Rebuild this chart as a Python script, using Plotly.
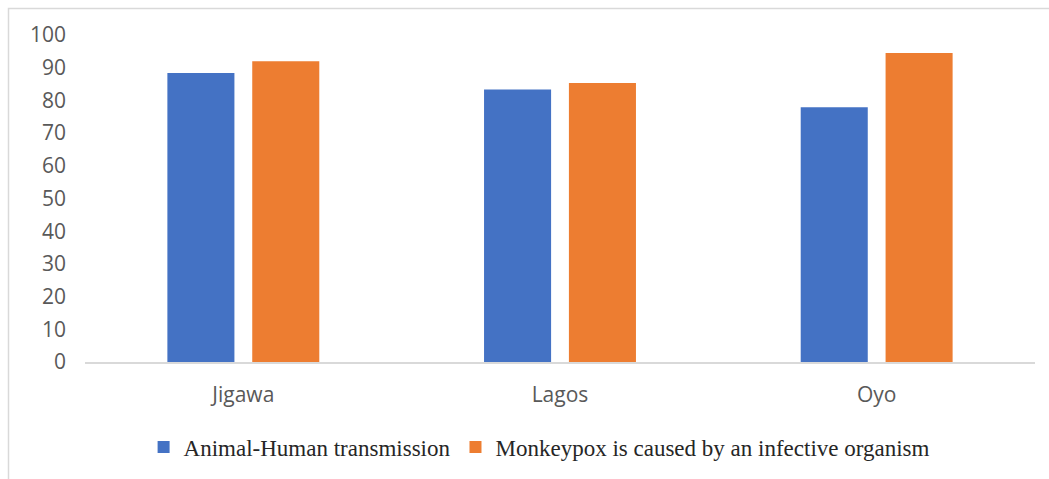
import plotly.graph_objects as go

# Survey results by state (percent of respondents)
states = ["Jigawa", "Lagos", "Oyo"]
animal_human = [88.4, 83.3, 77.9]
infective_organism = [92.0, 85.3, 94.5]

series_names = [
    "Animal-Human transmission",
    "Monkeypox is caused by an infective organism",
]
y_ticks = list(range(0, 101, 10))

BLUE = "#4472C4"
ORANGE = "#ED7D31"
GREY_TEXT = "#595959"
AXIS_GREY = "#D9D9D9"

W, H = 1049, 479
ML, MR, MT, MB = 85, 14, 35, 117
plot_w = W - ML - MR
plot_h = H - MT - MB

fig = go.Figure()
fig.add_trace(go.Bar(x=states, y=animal_human, name=series_names[0],
                     marker=dict(color=BLUE, line=dict(width=0))))
fig.add_trace(go.Bar(x=states, y=infective_organism, name=series_names[1],
                     marker=dict(color=ORANGE, line=dict(width=0))))

# Light outer frame around the chart area
fx0 = (8.5 - ML) / plot_w
fy1 = (H - MB - 8.5) / plot_h
fig.add_shape(type="rect", xref="paper", yref="paper",
              x0=fx0, x1=1.2, y0=-1.0, y1=fy1,
              line=dict(color=AXIS_GREY, width=1.5), fillcolor="rgba(0,0,0,0)",
              layer="below")

fig.update_layout(
    width=W, height=H,
    margin=dict(l=ML, r=MR, t=MT, b=MB, autoexpand=False),
    paper_bgcolor="white", plot_bgcolor="white",
    barmode="group", bargap=0.464, bargroupgap=0.21,
    font=dict(family="Open Sans", color=GREY_TEXT, size=20),
    xaxis=dict(showgrid=False, showline=True, linecolor=AXIS_GREY, linewidth=1.5,
               ticks="", tickfont=dict(size=21, color=GREY_TEXT),
               ticklabelstandoff=13, zeroline=False),
    yaxis=dict(range=[0, 100], tickvals=y_ticks, showgrid=False, zeroline=False,
               showline=False, ticks="", tickfont=dict(size=21, color=GREY_TEXT),
               ticklabelstandoff=18),
    legend=dict(orientation="h", x=0.478, xanchor="center",
                y=(H - MB - 447) / plot_h, yanchor="middle",
                font=dict(family="Liberation Serif", size=23, color="#262626"),
                itemclick=False, itemdoubleclick=False,
                bgcolor="rgba(0,0,0,0)"),
    showlegend=True,
)

fig.write_html("out.html")
